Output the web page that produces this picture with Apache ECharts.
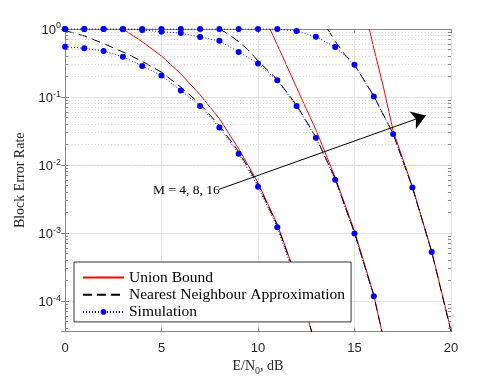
<!DOCTYPE html>
<html><head><meta charset="utf-8">
<script src="https://cdn.jsdelivr.net/npm/echarts@6/dist/echarts.min.js"></script>
<style>html,body{margin:0;padding:0;background:#fff}#c{width:498px;height:381px}</style>
</head><body><div id="c"></div>
<script>
// ---- data ----
const xTicks = [0, 5, 10, 15, 20];
const yMin = 3.57e-5, yMax = 1;

const sim4X = [0,1,2,3,4,5,6,7,8,9,10,11,12];
const sim4Y = [0.55,0.52,0.475,0.39,0.287,0.207,0.125,0.074,0.0357,0.0147,0.0048,0.00122,0.00019];
const nn4X = [0,1,2,3,4,5,6,7,8,9,10,11,12,12.8];
const nn4Y = [0.95,0.79,0.61,0.46,0.335,0.232,0.14,0.079,0.038,0.0158,0.0052,0.0013,0.00021,0.000034];
const ub4X = [3,4,5,6,7,8,9,10,11,12,12.8];
const ub4Y = [1.0,0.65,0.40,0.219,0.108,0.048,0.0174,0.0055,0.00135,0.00022,0.000034];

const sim8X = [0,1,2,3,4,5,6,7,8,9,10,11,12,13,14,15,16];
const sim8Y = [1.0,1.0,1.0,0.995,0.97,0.91,0.87,0.76,0.67,0.46,0.31,0.177,0.074,0.0252,0.0061,0.00099,0.000118];
const nn8X = [8,8.5,9,9.5,10,11,12,13,14,15,16,16.42];
const nn8Y = [1.0,0.83,0.65,0.49,0.34,0.18,0.076,0.026,0.0063,0.00101,0.00012,0.0000357];
const ub8X = [10.62,11,11.5,12,12.5,13,14,15,16,16.42];
const ub8Y = [1.0,0.585,0.284,0.138,0.067,0.033,0.0066,0.00107,0.000124,0.0000357];

const sim16X = [0,1,2,3,4,5,6,7,8,9,10,11,12,13,14,15,16,17,18,19];
const sim16Y = [1,1,1,1,1,1,1,1,1,1,1,1,0.935,0.77,0.545,0.297,0.102,0.0286,0.0047,0.00053];
const nn16X = [13.6,14,14.5,15,16,17,18,19,20];
const nn16Y = [1.0,0.66,0.42,0.3,0.104,0.029,0.0047,0.00053,0.000036];
const ub16X = [15.77,16,16.5,17,18,19,20];
const ub16Y = [1.0,0.52,0.14,0.032,0.0048,0.00054,0.000037];

const arrowFrom = [7.98, 0.0044];
const arrowTo = [18.7, 0.0535];
const annotation = 'M = 4, 8, 16';
const names = ['Union Bound', 'Nearest Neighbour Approximation', 'Simulation'];

// ---- build chart ----
const pairs = (xs, ys) => xs.map((x, i) => [x, ys[i]]);
const minorVals = [];
for (let e = -5; e <= -1; e++) for (let k = 2; k <= 9; k++) {
  const v = k * Math.pow(10, e);
  if (v > yMin && v < yMax) minorVals.push(v);
}
const xLo = xTicks[0], xHi = xTicks[xTicks.length - 1];
const tickLen = 0.16; // in dB units, for minor ticks on left/right borders
const serifFont = '"Liberation Serif", "Times New Roman", serif';
const sansFont = '"Liberation Sans", Arial, sans-serif';
const axisCol = '#858585';

function ub(xs, ys) { return { type: 'line', name: names[0], data: pairs(xs, ys), symbol: 'none', color: '#ff0000', lineStyle: { width: 1, color: '#ff0000' }, z: 3, animation: false }; }
function nn(xs, ys) { return { type: 'line', name: names[1], data: pairs(xs, ys), symbol: 'none', color: '#000', lineStyle: { width: 1, color: '#000', type: [9, 5] }, z: 4, animation: false }; }
function sim(xs, ys) { return { type: 'line', name: names[2], data: pairs(xs, ys), symbol: 'circle', symbolSize: 6, color: '#0000ff', itemStyle: { color: '#0000ff' }, lineStyle: { width: 1, color: '#0000ff', type: [1, 2] }, z: 5, animation: false }; }

const minorTickLines = [];
minorVals.forEach(v => {
  minorTickLines.push([{ coord: [xLo, v] }, { coord: [xLo + tickLen, v] }]);
  minorTickLines.push([{ coord: [xHi - tickLen, v] }, { coord: [xHi, v] }]);
});

const chart = echarts.init(document.getElementById('c'), null, { renderer: 'canvas' });
chart.setOption({
  animation: false,
  backgroundColor: '#fff',
  grid: { left: 65, right: 47, top: 29, bottom: 49 },
  xAxis: [{
    type: 'value', min: xLo, max: xHi, interval: 5,
    axisLine: { onZero: false, lineStyle: { color: axisCol, width: 1 } },
    axisTick: { inside: true, length: 4, lineStyle: { color: axisCol } },
    splitLine: { show: true, lineStyle: { color: '#e3e3e3', width: 1 } },
    axisLabel: { color: '#262626', fontSize: 13, fontFamily: sansFont, margin: 10 },
    name: '{t|E/N}{sub|0}{t|, dB}', nameLocation: 'middle', nameGap: 24,
    nameTextStyle: { rich: { t: { fontFamily: serifFont, fontSize: 14, color: '#262626' }, sub: { fontFamily: serifFont, fontSize: 10, color: '#262626', padding: [9, 0, 0, 0] } } }
  }, {
    type: 'value', position: 'top', min: xLo, max: xHi, interval: 5,
    axisLine: { onZero: false, lineStyle: { color: axisCol, width: 1 } },
    axisTick: { inside: true, length: 4, lineStyle: { color: axisCol } },
    splitLine: { show: false }, axisLabel: { show: false }
  }],
  yAxis: [{
    type: 'log', logBase: 10, min: yMin, max: yMax,
    axisLine: { show: true, lineStyle: { color: axisCol, width: 1 } },
    axisTick: { inside: true, length: 4, lineStyle: { color: axisCol } },
    splitLine: { show: true, lineStyle: { color: '#e3e3e3', width: 1 } },
    axisLabel: {
      color: '#262626', margin: 4, showMinLabel: false,
      formatter: v => { const e = Math.log10(v); const r = Math.round(e); if (Math.abs(e - r) > 1e-6) return ''; return '{b|10}{s|' + r + '}'; },
      rich: { b: { fontSize: 13, fontFamily: sansFont, color: '#262626', padding: [3, 0, 0, 0] }, s: { fontSize: 9, fontFamily: sansFont, color: '#262626', padding: [0, 0, 6, 0] } }
    },
    name: 'Block Error Rate', nameLocation: 'middle', nameGap: 31, nameRotate: 90,
    nameTextStyle: { fontFamily: serifFont, fontSize: 14, color: '#262626' }
  }, {
    type: 'log', logBase: 10, min: yMin, max: yMax, position: 'right',
    axisLine: { show: true, lineStyle: { color: axisCol, width: 1 } },
    axisTick: { show: true, inside: true, length: 4, lineStyle: { color: axisCol } },
    splitLine: { show: false }, axisLabel: { show: false }
  }],
  legend: {
    data: [
      { name: names[0], itemStyle: { opacity: 0 } },
      { name: names[1], itemStyle: { opacity: 0 } },
      { name: names[2] }
    ],
    orient: 'vertical', left: 74, top: 262,
    itemWidth: 41, itemHeight: 7, itemGap: 1.2,
    padding: [7.5, 6, 2, 8],
    backgroundColor: '#fff', borderColor: '#333', borderWidth: 1,
    textStyle: { fontFamily: serifFont, fontSize: 15.5, lineHeight: 15, color: '#000' },
    selectedMode: false, z: 10
  },
  graphic: [{ type: 'text', left: 153, top: 183, z: 20, style: { text: annotation, font: '13.5px ' + serifFont, fill: '#000' } }],
  series: [
    { type: 'line', name: 'minorGrid', data: [], z: 1, animation: false,
      markLine: { silent: true, symbol: 'none', label: { show: false }, animation: false,
        lineStyle: { color: '#cfcfcf', type: [1, 2.3], width: 1 },
        data: minorVals.map(v => ({ yAxis: v })) } },
    { type: 'line', name: 'minorTicks', data: [], z: 2, animation: false,
      markLine: { silent: true, symbol: 'none', label: { show: false }, animation: false,
        lineStyle: { color: axisCol, type: 'solid', width: 1 },
        data: minorTickLines } },
    ub(ub4X, ub4Y), ub(ub8X, ub8Y), ub(ub16X, ub16Y),
    nn(nn4X, nn4Y), nn(nn8X, nn8Y), nn(nn16X, nn16Y),
    sim(sim4X, sim4Y), sim(sim8X, sim8Y), sim(sim16X, sim16Y),
    { type: 'line', name: 'arrow', data: [], z: 6, animation: false,
      markLine: { silent: true, symbol: ['none', 'arrow'], symbolSize: 14, label: { show: false }, animation: false,
        lineStyle: { color: '#000', type: 'solid', width: 1 },
        data: [[{ coord: arrowFrom }, { coord: arrowTo }]] } }
  ]
});
</script></body></html>
